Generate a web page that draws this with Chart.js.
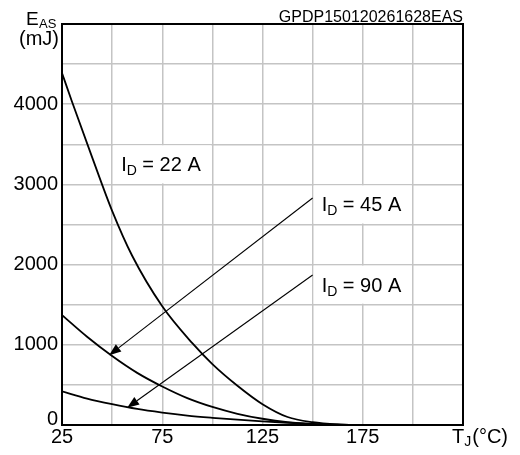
<!DOCTYPE html>
<html>
<head>
<meta charset="utf-8">
<script src="https://cdn.jsdelivr.net/npm/chart.js@4/dist/chart.umd.min.js"></script>
<style>
  html, body { margin: 0; padding: 0; background: #fff; }
  #wrap { width: 520px; height: 455px; }
</style>
</head>
<body>
<div id="wrap"><canvas id="myChart" width="520" height="455"></canvas></div>
<script>
// junction temperature (°C) and avalanche energy (mJ)
const tj22 = [25, 30, 40, 50, 60, 75, 90, 100, 112.5, 125, 137.5, 150, 162.5, 175];
const eas22 = [4390, 4030, 3340, 2670, 2110, 1480, 1020, 760, 490, 260, 100, 35, 8, 0];

const tj45 = [25, 37.5, 50, 62.5, 75, 87.5, 100, 112.5, 125, 137.5, 150, 162.5, 175];
const eas45 = [1370, 1100, 860, 650, 480, 335, 225, 140, 78, 35, 12, 3, 0];

const tj90 = [25, 37.5, 50, 62.5, 75, 87.5, 100, 112.5, 125, 137.5, 150, 162.5, 175];
const eas90 = [420, 330, 260, 200, 155, 118, 90, 66, 46, 28, 13, 3, 0];

const xTicks = [25, 75, 125, 175];
const yTicks = [1000, 2000, 3000, 4000];

// labels: [text, sub, rest, box x1, box y1, box x2, box y2] in data units
const curveLabels = [
  ['I', 'D', ' = 22 A', 50, 3500, 100, 3000],
  ['I', 'D', ' = 45 A', 150, 3000, 200, 2500],
  ['I', 'D', ' = 90 A', 150, 2000, 200, 1500]
];
// arrows: from (x1,y1) to tip (x2,y2), data units
const arrows = [
  [150, 2830, 48.5, 870],
  [150, 1870, 57.5, 215]
];

const FONT = '"Liberation Sans", Arial, sans-serif';
const toPts = (xs, ys) => xs.map((x, i) => ({ x: x, y: ys[i] }));

const ctx = document.getElementById('myChart');

const extras = {
  id: 'extras',
  beforeDatasetsDraw(chart) {
    const c = chart.ctx, xs = chart.scales.x, ys = chart.scales.y;
    // white boxes behind curve labels
    c.save();
    c.fillStyle = '#fff';
    curveLabels.forEach(l => {
      const x1 = xs.getPixelForValue(l[3]) + 1, x2 = xs.getPixelForValue(l[5]) - 1;
      const y1 = ys.getPixelForValue(l[4]) + 1, y2 = ys.getPixelForValue(l[6]) - 1;
      c.fillRect(x1, y1, x2 - x1, y2 - y1);
    });
    c.restore();
  },
  afterDatasetsDraw(chart) {
    const c = chart.ctx, a = chart.chartArea;
    const xs = chart.scales.x, ys = chart.scales.y;
    c.save();
    // frame
    c.strokeStyle = '#000';
    c.lineWidth = 2;
    c.strokeRect(a.left, a.top, a.right - a.left, a.bottom - a.top);

    // arrows
    c.lineWidth = 1.1;
    c.fillStyle = '#000';
    arrows.forEach(ar => {
      const x1 = xs.getPixelForValue(ar[0]), y1 = ys.getPixelForValue(ar[1]);
      const x2 = xs.getPixelForValue(ar[2]), y2 = ys.getPixelForValue(ar[3]);
      const ang = Math.atan2(y2 - y1, x2 - x1);
      const len = 12, half = 4.5;
      const bx = x2 - len * Math.cos(ang), by = y2 - len * Math.sin(ang);
      c.beginPath();
      c.moveTo(x1, y1);
      c.lineTo(bx, by);
      c.stroke();
      c.beginPath();
      c.moveTo(x2, y2);
      c.lineTo(bx + half * Math.sin(ang), by - half * Math.cos(ang));
      c.lineTo(bx - half * Math.sin(ang), by + half * Math.cos(ang));
      c.closePath();
      c.fill();
    });

    // curve labels
    c.fillStyle = '#000';
    c.textBaseline = 'alphabetic';
    c.textAlign = 'left';
    curveLabels.forEach(l => {
      let x = xs.getPixelForValue(l[3]) + 9;
      const y = (ys.getPixelForValue(l[4]) + ys.getPixelForValue(l[6])) / 2 + 7;
      c.font = '20px ' + FONT;
      c.fillText(l[0], x, y);
      x += c.measureText(l[0]).width;
      c.font = '14px ' + FONT;
      c.fillText(l[1], x, y + 4);
      x += c.measureText(l[1]).width;
      c.font = '20px ' + FONT;
      c.fillText(l[2], x, y);
    });

    // code at top right
    c.font = '16px ' + FONT;
    c.textAlign = 'right';
    c.fillText('GPDP150120261628EAS', a.right, a.top - 2);

    // zero label sits on the axis
    c.font = '20px ' + FONT;
    c.fillText('0', a.left - 4, ys.getPixelForValue(0));

    // y axis title
    c.font = '19px ' + FONT;
    c.textAlign = 'left';
    c.fillText('E', 26, 25);
    c.font = '13px ' + FONT;
    c.fillText('AS', 39, 28);
    c.font = '20px ' + FONT;
    c.textAlign = 'right';
    c.fillText('(mJ)', 59, 45);

    // x axis title
    c.textAlign = 'left';
    let tx = 452;
    const ty = 443;
    c.fillText('T', tx, ty);
    tx += c.measureText('T').width;
    c.font = '14px ' + FONT;
    c.fillText('J', tx, ty + 3);
    tx += c.measureText('J').width + 1;
    c.font = '20px ' + FONT;
    c.fillText('(°C)', tx, ty);
    c.restore();
  }
};

const lineStyle = {
  borderColor: '#000',
  borderWidth: 1.8,
  pointRadius: 0,
  fill: false,
  cubicInterpolationMode: 'monotone'
};

new Chart(ctx, {
  type: 'line',
  data: {
    datasets: [
      Object.assign({ label: 'ID = 22 A', data: toPts(tj22, eas22) }, lineStyle),
      Object.assign({ label: 'ID = 45 A', data: toPts(tj45, eas45) }, lineStyle),
      Object.assign({ label: 'ID = 90 A', data: toPts(tj90, eas90) }, lineStyle)
    ]
  },
  options: {
    responsive: false,
    animation: false,
    layout: { padding: { top: 24, right: 57, left: 0, bottom: 0 } },
    plugins: { legend: { display: false }, tooltip: { enabled: false } },
    scales: {
      x: {
        type: 'linear',
        min: 25,
        max: 225,
        afterFit: s => { s.height = 30; },
        afterBuildTicks: s => { s.ticks = [25, 50, 75, 100, 125, 150, 175, 200, 225].map(v => ({ value: v })); },
        ticks: {
          color: '#000',
          font: { family: FONT, size: 20 },
          padding: 0,
          maxRotation: 0,
          autoSkip: false,
          callback: v => xTicks.includes(v) ? String(v) : ''
        },
        grid: { color: '#c4c4c4', lineWidth: 1.5, drawTicks: false },
        border: { color: '#000', width: 2 }
      },
      y: {
        type: 'linear',
        min: 0,
        max: 5000,
        afterFit: s => { s.width = 62; },
        ticks: {
          stepSize: 500,
          color: '#000',
          font: { family: FONT, size: 20 },
          padding: 4,
          autoSkip: false,
          callback: v => yTicks.includes(v) ? String(v) : ''
        },
        grid: { color: '#c4c4c4', lineWidth: 1.5, drawTicks: false },
        border: { color: '#000', width: 2 }
      }
    }
  },
  plugins: [extras]
});
</script>
</body>
</html>
